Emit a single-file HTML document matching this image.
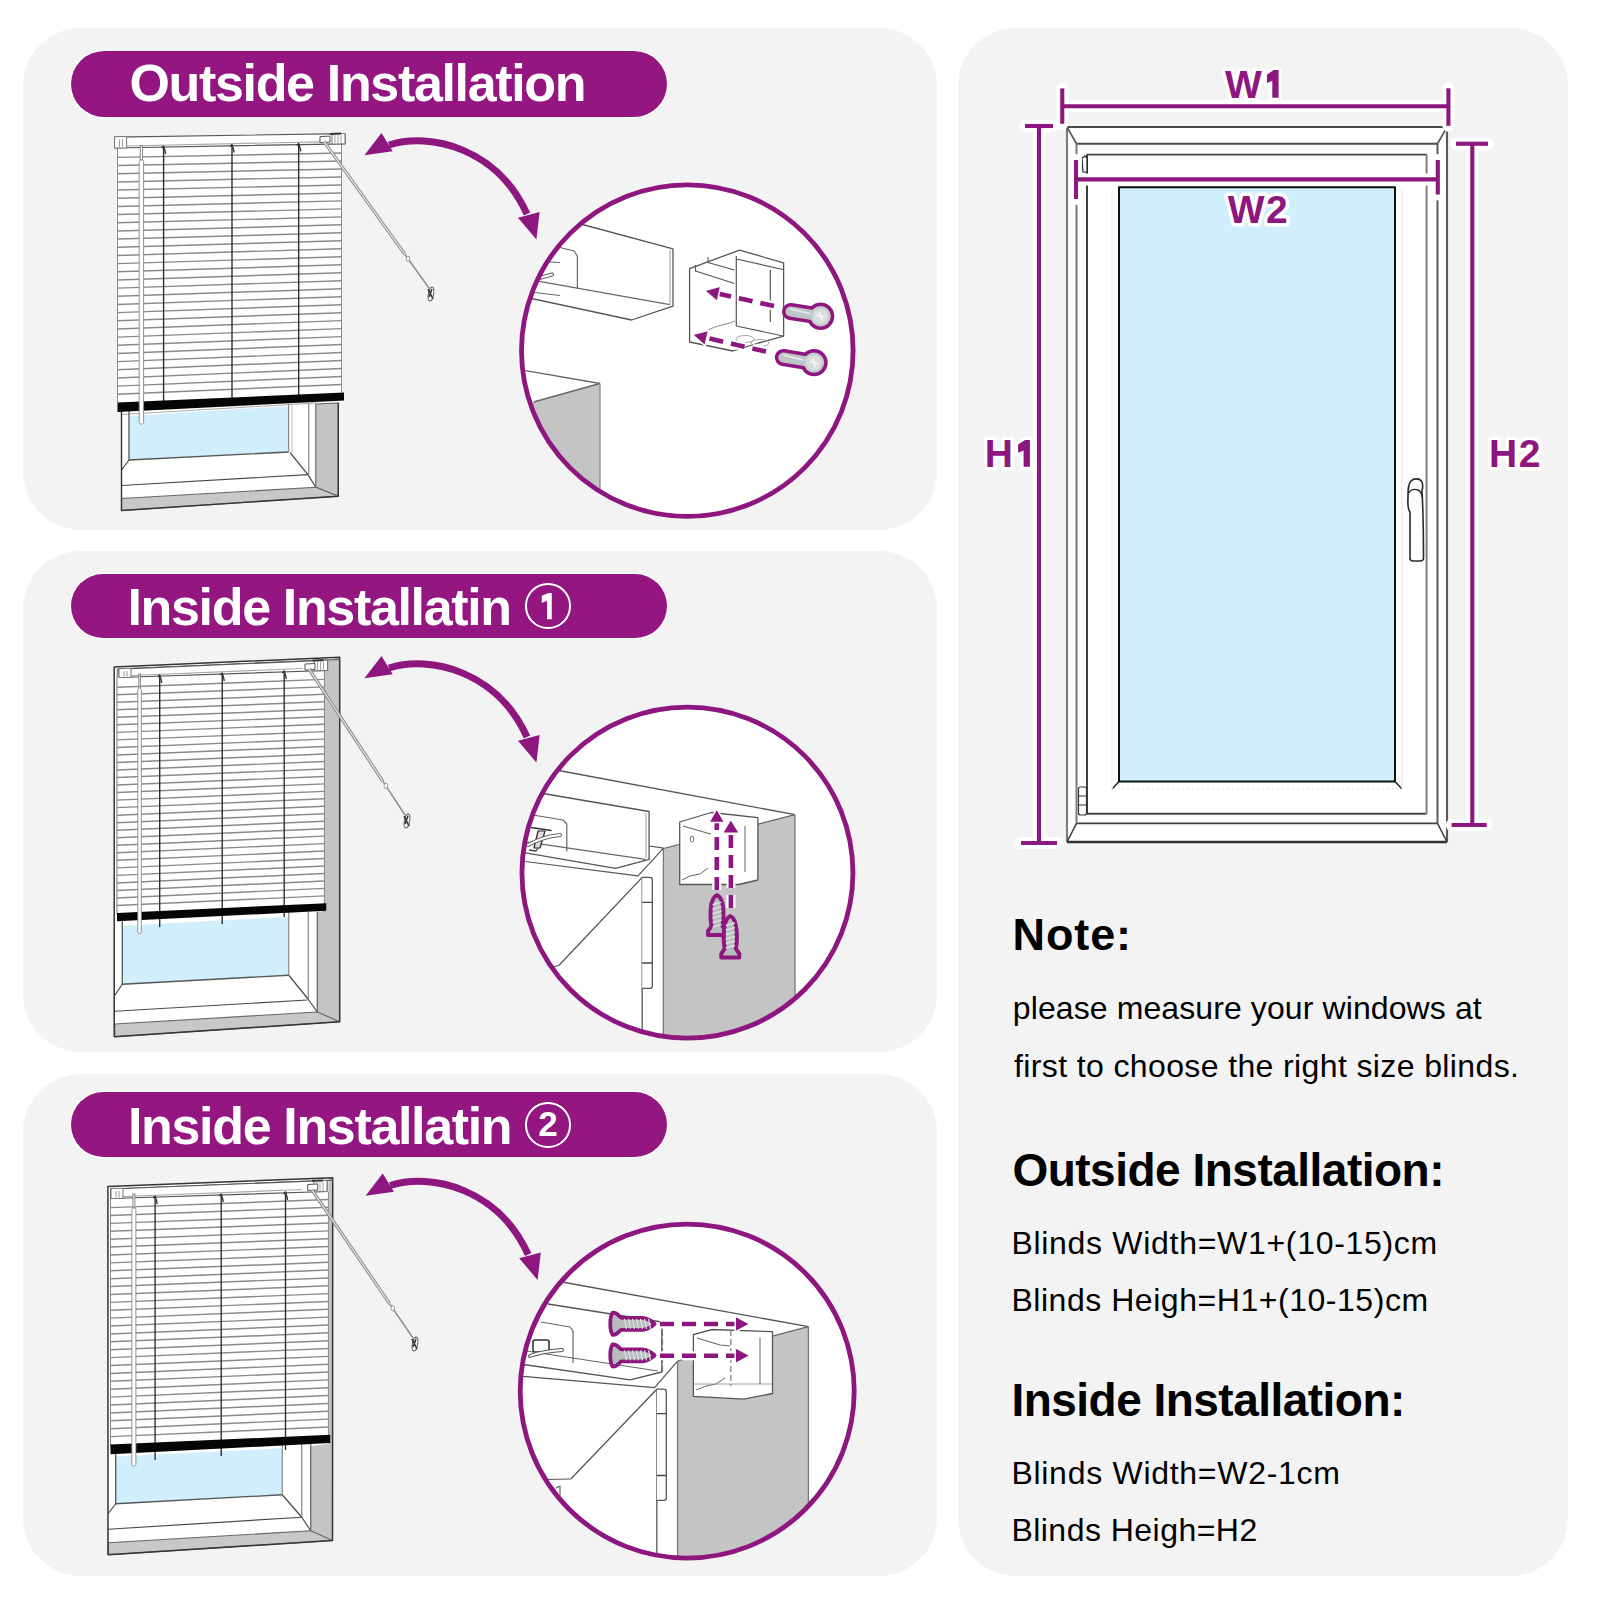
<!DOCTYPE html>
<html><head><meta charset="utf-8"><title>Blinds installation guide</title>
<style>
html,body{margin:0;padding:0}
body{width:1600px;height:1600px;position:relative;overflow:hidden;background:#fff;font-family:"Liberation Sans",sans-serif}
.panel{position:absolute;background:#f3f3f3;border-radius:58px}
.pill{position:absolute;left:71px;width:595.5px;background:#941681;border-radius:33px;box-shadow:0 0 0 1.3px rgba(255,255,255,0.85)}
.t{position:absolute;white-space:nowrap;line-height:1}
.ph{color:#fff;font-weight:700;font-size:52px;letter-spacing:-1.34px}
.circ{position:absolute;width:41.5px;height:41.5px;border:2.5px solid #fff;border-radius:50%;color:#fff;font-weight:700;font-size:35px;line-height:41.5px;text-align:center;z-index:2}
.dl{color:#8d167f;font-weight:700;font-size:39px;-webkit-text-stroke:0;paint-order:stroke fill}
.dl span{}
.hb{color:#000;font-weight:700}
.bd{color:#000;font-weight:400;font-size:32px}
svg{position:absolute;left:0;top:0}
</style></head>
<body>
<div class="panel" style="left:22.5px;top:27.5px;width:914.75px;height:502px"></div>
<div class="panel" style="left:22.5px;top:550.5px;width:914.75px;height:501.5px"></div>
<div class="panel" style="left:22.5px;top:1074px;width:914.75px;height:501.5px"></div>
<div class="panel" style="left:958.25px;top:27.5px;width:609.75px;height:1548px"></div>
<div class="pill" style="top:51px;height:65.5px"></div>
<div class="pill" style="top:573.6px;height:64px"></div>
<div class="pill" style="top:1091.75px;height:65.6px"></div>
<div class="t ph" style="left:129.5px;top:57.3px">Outside Installation</div>
<div class="t ph" style="left:127.5px;top:580.8px">Inside Installatin</div>
<div class="circ" style="left:525.3px;top:583.1px"></div>
<div class="t ph" style="left:128px;top:1099.7px">Inside Installatin</div>
<div class="circ" style="left:525.3px;top:1102.1px;line-height:40px">2</div>
<svg width="1600" height="1600" viewBox="0 0 1600 1600">
<polygon points="121.5,404 338.3,403 338.3,496.2 121.5,510.5" fill="#fff" stroke="none" stroke-width="1.3" stroke-linejoin="round" />
<polygon points="129,416 288.6,406 288.6,452 129,460" fill="#d1eefd" stroke="none" stroke-width="1.3" stroke-linejoin="round" />
<line x1="121.5" y1="414.5" x2="316" y2="403" stroke="#aaa" stroke-width="1" />
<polyline points="129,405 129,460 288.6,452" fill="none" stroke="#555" stroke-width="1.3" stroke-linejoin="round" />
<line x1="288.6" y1="404" x2="288.6" y2="452" stroke="#888" stroke-width="1.2" />
<line x1="292" y1="404" x2="292" y2="452" stroke="#bbb" stroke-width="1" />
<line x1="129" y1="460" x2="121.5" y2="470" stroke="#4a4a4a" stroke-width="1.2" />
<polyline points="290,452.5 307.9,474.6 315.8,487.3" fill="none" stroke="#4a4a4a" stroke-width="1.2" stroke-linejoin="round" />
<line x1="121.5" y1="485.5" x2="307.9" y2="474.6" stroke="#4a4a4a" stroke-width="1.2" />
<line x1="308.8" y1="404" x2="308.8" y2="474.6" stroke="#777" stroke-width="1.1" />
<polygon points="315.8,404 338.3,403 338.3,496.2 315.8,487.3" fill="#c4c4c4" stroke="#666" stroke-width="1.1" stroke-linejoin="round" />
<polygon points="121.5,498.5 315.8,487.3 338.3,496.2 121.5,510.5" fill="#c8c8c8" stroke="#666" stroke-width="1.1" stroke-linejoin="round" />
<polyline points="121.5,404 121.5,510.5 338.3,496.2 338.3,403" fill="none" stroke="#333" stroke-width="1.4" stroke-linejoin="round" />
<polygon points="117.5,148 341.5,143.8 341.5,392.5 117.5,402.5" fill="#fff" stroke="none" stroke-width="1.3" stroke-linejoin="round" />
<line x1="117.5" y1="157.4" x2="341.5" y2="153" stroke="#8a8a8a" stroke-width="1.45" />
<line x1="117.5" y1="165.57" x2="341.5" y2="160.98" stroke="#8a8a8a" stroke-width="1.45" />
<line x1="117.5" y1="173.74" x2="341.5" y2="168.97" stroke="#8a8a8a" stroke-width="1.45" />
<line x1="117.5" y1="181.91" x2="341.5" y2="176.95" stroke="#8a8a8a" stroke-width="1.45" />
<line x1="117.5" y1="190.08" x2="341.5" y2="184.93" stroke="#8a8a8a" stroke-width="1.45" />
<line x1="117.5" y1="198.24" x2="341.5" y2="192.91" stroke="#8a8a8a" stroke-width="1.45" />
<line x1="117.5" y1="206.41" x2="341.5" y2="200.9" stroke="#8a8a8a" stroke-width="1.45" />
<line x1="117.5" y1="214.58" x2="341.5" y2="208.88" stroke="#8a8a8a" stroke-width="1.45" />
<line x1="117.5" y1="222.75" x2="341.5" y2="216.86" stroke="#8a8a8a" stroke-width="1.45" />
<line x1="117.5" y1="230.92" x2="341.5" y2="224.84" stroke="#8a8a8a" stroke-width="1.45" />
<line x1="117.5" y1="239.09" x2="341.5" y2="232.83" stroke="#8a8a8a" stroke-width="1.45" />
<line x1="117.5" y1="247.26" x2="341.5" y2="240.81" stroke="#8a8a8a" stroke-width="1.45" />
<line x1="117.5" y1="255.43" x2="341.5" y2="248.79" stroke="#8a8a8a" stroke-width="1.45" />
<line x1="117.5" y1="263.6" x2="341.5" y2="256.78" stroke="#8a8a8a" stroke-width="1.45" />
<line x1="117.5" y1="271.77" x2="341.5" y2="264.76" stroke="#8a8a8a" stroke-width="1.45" />
<line x1="117.5" y1="279.93" x2="341.5" y2="272.74" stroke="#8a8a8a" stroke-width="1.45" />
<line x1="117.5" y1="288.1" x2="341.5" y2="280.72" stroke="#8a8a8a" stroke-width="1.45" />
<line x1="117.5" y1="296.27" x2="341.5" y2="288.71" stroke="#8a8a8a" stroke-width="1.45" />
<line x1="117.5" y1="304.44" x2="341.5" y2="296.69" stroke="#8a8a8a" stroke-width="1.45" />
<line x1="117.5" y1="312.61" x2="341.5" y2="304.67" stroke="#8a8a8a" stroke-width="1.45" />
<line x1="117.5" y1="320.78" x2="341.5" y2="312.66" stroke="#8a8a8a" stroke-width="1.45" />
<line x1="117.5" y1="328.95" x2="341.5" y2="320.64" stroke="#8a8a8a" stroke-width="1.45" />
<line x1="117.5" y1="337.12" x2="341.5" y2="328.62" stroke="#8a8a8a" stroke-width="1.45" />
<line x1="117.5" y1="345.29" x2="341.5" y2="336.6" stroke="#8a8a8a" stroke-width="1.45" />
<line x1="117.5" y1="353.46" x2="341.5" y2="344.59" stroke="#8a8a8a" stroke-width="1.45" />
<line x1="117.5" y1="361.62" x2="341.5" y2="352.57" stroke="#8a8a8a" stroke-width="1.45" />
<line x1="117.5" y1="369.79" x2="341.5" y2="360.55" stroke="#8a8a8a" stroke-width="1.45" />
<line x1="117.5" y1="377.96" x2="341.5" y2="368.53" stroke="#8a8a8a" stroke-width="1.45" />
<line x1="117.5" y1="386.13" x2="341.5" y2="376.52" stroke="#8a8a8a" stroke-width="1.45" />
<line x1="117.5" y1="394.3" x2="341.5" y2="384.5" stroke="#8a8a8a" stroke-width="1.45" />
<line x1="117.5" y1="148" x2="117.5" y2="402.5" stroke="#8a8a8a" stroke-width="1" />
<line x1="341.5" y1="143.8" x2="341.5" y2="392.5" stroke="#8a8a8a" stroke-width="1" />
<polygon points="114.6,137.2 345,133.6 345,143.8 114.6,148" fill="#fff" stroke="#555" stroke-width="1.2" stroke-linejoin="round" />
<line x1="126.6" y1="146" x2="320" y2="141.8" stroke="#aaa" stroke-width="1.2" />
<polygon points="114.6,136.7 126.6,136.5 126.6,148 114.6,148" fill="#fff" stroke="#777" stroke-width="1" stroke-linejoin="round" />
<line x1="119.6" y1="139.2" x2="119.6" y2="147" stroke="#999" stroke-width="1" />
<line x1="122.6" y1="139.2" x2="122.6" y2="147" stroke="#999" stroke-width="1" />
<polygon points="332,133.8 345,133.6 345,143.8 332,144.1" fill="#fff" stroke="#777" stroke-width="1" stroke-linejoin="round" />
<line x1="341" y1="135.1" x2="341" y2="143.3" stroke="#999" stroke-width="0.9" />
<line x1="338" y1="135.1" x2="338" y2="143.3" stroke="#999" stroke-width="0.9" />
<line x1="335" y1="135.1" x2="335" y2="143.3" stroke="#999" stroke-width="0.9" />
<line x1="330" y1="133.9" x2="341" y2="133.6" stroke="#333" stroke-width="2" />
<polygon points="320,136.6 330,136.1 330,142.1 320,142.6" fill="#fff" stroke="#555" stroke-width="1" stroke-linejoin="round" />
<line x1="324" y1="141.6" x2="404.85" y2="254.33" stroke="#8a8a8a" stroke-width="3.2" />
<line x1="324" y1="141.6" x2="404.85" y2="254.33" stroke="#e8e8e8" stroke-width="1.2" />
<line x1="404.85" y1="254.33" x2="429" y2="288" stroke="#8c8c8c" stroke-width="1.5" />
<ellipse cx="408" cy="258.72" rx="1.8" ry="2.6" fill="#fff" stroke="#888" stroke-width="0.9"/>
<ellipse cx="431" cy="294" rx="2.6" ry="7" fill="#fff" stroke="#666" stroke-width="1.1" transform="rotate(10 431 294)"/>
<path d="M428,289 L433,299 M432,289 L429,297" stroke="#333" stroke-width="1.6" fill="none"/>
<line x1="163.6" y1="147" x2="163.6" y2="407" stroke="#2a2a2a" stroke-width="1.35" />
<polyline points="161.6,148 163.6,146 165.1,151 165.6,154" fill="none" stroke="#333" stroke-width="1.4" stroke-linejoin="round" />
<line x1="232" y1="145.5" x2="232" y2="403" stroke="#2a2a2a" stroke-width="1.35" />
<polyline points="230,146.5 232,144.5 233.5,149.5 234,152.5" fill="none" stroke="#333" stroke-width="1.4" stroke-linejoin="round" />
<line x1="298.7" y1="144.5" x2="298.7" y2="399" stroke="#2a2a2a" stroke-width="1.35" />
<polyline points="296.7,145.5 298.7,143.5 300.2,148.5 300.7,151.5" fill="none" stroke="#333" stroke-width="1.4" stroke-linejoin="round" />
<polygon points="117.5,402.5 344,392.5 344,400.5 117.5,412" fill="#050505" stroke="none" stroke-width="1.3" stroke-linejoin="round" />
<rect x="140.2" y="146" width="2.4" height="14" fill="#fff" stroke="#777" stroke-width="0.9"/>
<rect x="139.2" y="160" width="4.4" height="264" rx="1.5" fill="#fff" stroke="#888" stroke-width="0.9"/>
<polygon points="114.2,667 339.7,657.2 339.7,1021.75 114.75,1036.75" fill="#fff" stroke="none" stroke-width="1.3" stroke-linejoin="round" />
<polygon points="324,660.7 339.7,657.2 339.7,1021.75 317.25,1012 317.25,912 324,911" fill="#c4c4c4" stroke="none" stroke-width="1.3" stroke-linejoin="round" />
<polygon points="122.25,925.75 288.75,916.75 288.75,975.25 122.25,984.25" fill="#d1eefd" stroke="none" stroke-width="1.3" stroke-linejoin="round" />
<polyline points="122.25,921 122.25,984.25 288.75,975.25" fill="none" stroke="#555" stroke-width="1.3" stroke-linejoin="round" />
<line x1="288.75" y1="912" x2="288.75" y2="975.25" stroke="#888" stroke-width="1.2" />
<line x1="122.25" y1="984.25" x2="114.75" y2="995.5" stroke="#4a4a4a" stroke-width="1.2" />
<polyline points="288.75,975.25 308.25,999.25 317.25,1012" fill="none" stroke="#4a4a4a" stroke-width="1.2" stroke-linejoin="round" />
<line x1="308.25" y1="912" x2="308.25" y2="999.25" stroke="#777" stroke-width="1.1" />
<line x1="317.25" y1="912" x2="317.25" y2="1012" stroke="#555" stroke-width="1.1" />
<line x1="114.75" y1="1011.25" x2="307.5" y2="1000" stroke="#4a4a4a" stroke-width="1.2" />
<polygon points="114.75,1024 317.25,1012 339.75,1021.75 114.75,1036.75" fill="#c8c8c8" stroke="#666" stroke-width="1.1" stroke-linejoin="round" />
<line x1="324" y1="660.7" x2="324" y2="912" stroke="#888" stroke-width="1" />
<polyline points="114.2,1036.75 114.2,667 339.7,657.2 339.7,1021.75 114.2,1036.75" fill="none" stroke="#333" stroke-width="1.5" stroke-linejoin="round" />
<line x1="117.2" y1="669" x2="339.7" y2="659.5" stroke="#555" stroke-width="1.1" />
<line x1="117.2" y1="669" x2="117.2" y2="915" stroke="#666" stroke-width="1" />
<polygon points="117,677.5 324.4,670.5 324.4,903.25 117,913" fill="#fff" stroke="none" stroke-width="1.3" stroke-linejoin="round" />
<line x1="117" y1="687.2" x2="324.4" y2="679.4" stroke="#8a8a8a" stroke-width="1.45" />
<line x1="117" y1="694.73" x2="324.4" y2="686.86" stroke="#8a8a8a" stroke-width="1.45" />
<line x1="117" y1="702.26" x2="324.4" y2="694.33" stroke="#8a8a8a" stroke-width="1.45" />
<line x1="117" y1="709.78" x2="324.4" y2="701.79" stroke="#8a8a8a" stroke-width="1.45" />
<line x1="117" y1="717.31" x2="324.4" y2="709.26" stroke="#8a8a8a" stroke-width="1.45" />
<line x1="117" y1="724.84" x2="324.4" y2="716.72" stroke="#8a8a8a" stroke-width="1.45" />
<line x1="117" y1="732.37" x2="324.4" y2="724.18" stroke="#8a8a8a" stroke-width="1.45" />
<line x1="117" y1="739.89" x2="324.4" y2="731.65" stroke="#8a8a8a" stroke-width="1.45" />
<line x1="117" y1="747.42" x2="324.4" y2="739.11" stroke="#8a8a8a" stroke-width="1.45" />
<line x1="117" y1="754.95" x2="324.4" y2="746.57" stroke="#8a8a8a" stroke-width="1.45" />
<line x1="117" y1="762.48" x2="324.4" y2="754.04" stroke="#8a8a8a" stroke-width="1.45" />
<line x1="117" y1="770" x2="324.4" y2="761.5" stroke="#8a8a8a" stroke-width="1.45" />
<line x1="117" y1="777.53" x2="324.4" y2="768.97" stroke="#8a8a8a" stroke-width="1.45" />
<line x1="117" y1="785.06" x2="324.4" y2="776.43" stroke="#8a8a8a" stroke-width="1.45" />
<line x1="117" y1="792.59" x2="324.4" y2="783.89" stroke="#8a8a8a" stroke-width="1.45" />
<line x1="117" y1="800.11" x2="324.4" y2="791.36" stroke="#8a8a8a" stroke-width="1.45" />
<line x1="117" y1="807.64" x2="324.4" y2="798.82" stroke="#8a8a8a" stroke-width="1.45" />
<line x1="117" y1="815.17" x2="324.4" y2="806.28" stroke="#8a8a8a" stroke-width="1.45" />
<line x1="117" y1="822.7" x2="324.4" y2="813.75" stroke="#8a8a8a" stroke-width="1.45" />
<line x1="117" y1="830.22" x2="324.4" y2="821.21" stroke="#8a8a8a" stroke-width="1.45" />
<line x1="117" y1="837.75" x2="324.4" y2="828.68" stroke="#8a8a8a" stroke-width="1.45" />
<line x1="117" y1="845.28" x2="324.4" y2="836.14" stroke="#8a8a8a" stroke-width="1.45" />
<line x1="117" y1="852.81" x2="324.4" y2="843.6" stroke="#8a8a8a" stroke-width="1.45" />
<line x1="117" y1="860.33" x2="324.4" y2="851.07" stroke="#8a8a8a" stroke-width="1.45" />
<line x1="117" y1="867.86" x2="324.4" y2="858.53" stroke="#8a8a8a" stroke-width="1.45" />
<line x1="117" y1="875.39" x2="324.4" y2="865.99" stroke="#8a8a8a" stroke-width="1.45" />
<line x1="117" y1="882.92" x2="324.4" y2="873.46" stroke="#8a8a8a" stroke-width="1.45" />
<line x1="117" y1="890.44" x2="324.4" y2="880.92" stroke="#8a8a8a" stroke-width="1.45" />
<line x1="117" y1="897.97" x2="324.4" y2="888.39" stroke="#8a8a8a" stroke-width="1.45" />
<line x1="117" y1="905.5" x2="324.4" y2="895.85" stroke="#8a8a8a" stroke-width="1.45" />
<line x1="117" y1="677.5" x2="117" y2="913" stroke="#8a8a8a" stroke-width="1" />
<line x1="324.4" y1="670.5" x2="324.4" y2="903.25" stroke="#8a8a8a" stroke-width="1" />
<polygon points="119,669.1 327.5,660.2 327.5,670.5 119,677.5" fill="#fff" stroke="#555" stroke-width="1.2" stroke-linejoin="round" />
<line x1="131" y1="675.5" x2="302.5" y2="668.5" stroke="#aaa" stroke-width="1.2" />
<polygon points="119,668.6 131,668.4 131,677.5 119,677.5" fill="#fff" stroke="#777" stroke-width="1" stroke-linejoin="round" />
<line x1="124" y1="671.1" x2="124" y2="676.5" stroke="#999" stroke-width="1" />
<line x1="127" y1="671.1" x2="127" y2="676.5" stroke="#999" stroke-width="1" />
<polygon points="314.5,660.4 327.5,660.2 327.5,670.5 314.5,670.8" fill="#fff" stroke="#777" stroke-width="1" stroke-linejoin="round" />
<line x1="323.5" y1="661.7" x2="323.5" y2="670" stroke="#999" stroke-width="0.9" />
<line x1="320.5" y1="661.7" x2="320.5" y2="670" stroke="#999" stroke-width="0.9" />
<line x1="317.5" y1="661.7" x2="317.5" y2="670" stroke="#999" stroke-width="0.9" />
<line x1="312.5" y1="660.5" x2="323.5" y2="660.2" stroke="#333" stroke-width="2" />
<polygon points="305,664 315,663.5 315,669.5 305,670" fill="#fff" stroke="#555" stroke-width="1" stroke-linejoin="round" />
<line x1="309" y1="669" x2="382.92" y2="781.42" stroke="#8a8a8a" stroke-width="3.2" />
<line x1="309" y1="669" x2="382.92" y2="781.42" stroke="#e8e8e8" stroke-width="1.2" />
<line x1="382.92" y1="781.42" x2="405" y2="815" stroke="#8c8c8c" stroke-width="1.5" />
<ellipse cx="385.8" cy="785.8" rx="1.8" ry="2.6" fill="#fff" stroke="#888" stroke-width="0.9"/>
<ellipse cx="407" cy="821" rx="2.6" ry="7" fill="#fff" stroke="#666" stroke-width="1.1" transform="rotate(10 407 821)"/>
<path d="M404,816 L409,826 M408,816 L405,824" stroke="#333" stroke-width="1.6" fill="none"/>
<line x1="159.7" y1="676" x2="159.7" y2="927" stroke="#2a2a2a" stroke-width="1.35" />
<polyline points="157.7,677 159.7,675 161.2,680 161.7,683" fill="none" stroke="#333" stroke-width="1.4" stroke-linejoin="round" />
<line x1="222.2" y1="674" x2="222.2" y2="924" stroke="#2a2a2a" stroke-width="1.35" />
<polyline points="220.2,675 222.2,673 223.7,678 224.2,681" fill="none" stroke="#333" stroke-width="1.4" stroke-linejoin="round" />
<line x1="284.2" y1="672" x2="284.2" y2="917" stroke="#2a2a2a" stroke-width="1.35" />
<polyline points="282.2,673 284.2,671 285.7,676 286.2,679" fill="none" stroke="#333" stroke-width="1.4" stroke-linejoin="round" />
<polygon points="117,913 326.25,903.25 326.25,910.75 117,921.25" fill="#050505" stroke="none" stroke-width="1.3" stroke-linejoin="round" />
<rect x="138.8" y="674" width="1.5" height="14" fill="#fff" stroke="#777" stroke-width="0.9"/>
<rect x="137.8" y="688" width="3.5" height="245.6" rx="1.5" fill="#fff" stroke="#888" stroke-width="0.9"/>
<polygon points="107.9,1186.6 332.7,1177.7 332.5,1540.5 108.25,1554.75" fill="#fff" stroke="none" stroke-width="1.3" stroke-linejoin="round" />
<polygon points="328.4,1179 332.7,1177.7 332.5,1540.5 310.75,1530.75 310.75,1446 328.4,1444" fill="#c4c4c4" stroke="none" stroke-width="1.3" stroke-linejoin="round" />
<polygon points="115.75,1456.5 282.25,1448.25 282.25,1494.75 115.75,1503.75" fill="#d1eefd" stroke="none" stroke-width="1.3" stroke-linejoin="round" />
<polyline points="115.75,1452 115.75,1503.75 282.25,1494.75" fill="none" stroke="#555" stroke-width="1.3" stroke-linejoin="round" />
<line x1="282.25" y1="1444" x2="282.25" y2="1494.75" stroke="#888" stroke-width="1.2" />
<line x1="115.75" y1="1503.75" x2="108.25" y2="1513.5" stroke="#4a4a4a" stroke-width="1.2" />
<polyline points="282.25,1494.75 301.75,1517.25 310.75,1530.75" fill="none" stroke="#4a4a4a" stroke-width="1.2" stroke-linejoin="round" />
<line x1="301.75" y1="1444" x2="301.75" y2="1517.25" stroke="#777" stroke-width="1.1" />
<line x1="310.75" y1="1444" x2="310.75" y2="1530.75" stroke="#555" stroke-width="1.1" />
<line x1="108.25" y1="1529.25" x2="301.75" y2="1517.25" stroke="#4a4a4a" stroke-width="1.2" />
<polygon points="108.25,1542.75 310.75,1530.75 332.5,1540.5 108.25,1554.75" fill="#c8c8c8" stroke="#666" stroke-width="1.1" stroke-linejoin="round" />
<polyline points="108,1554.75 107.9,1186.6 332.7,1177.7 332.5,1540.5 108,1554.75" fill="none" stroke="#333" stroke-width="1.5" stroke-linejoin="round" />
<line x1="110" y1="1189" x2="332.7" y2="1180.2" stroke="#555" stroke-width="1.1" />
<line x1="110.5" y1="1189" x2="110.5" y2="1446" stroke="#666" stroke-width="1" />
<polygon points="110.5,1198.5 328.4,1191.5 328.4,1434.75 110.5,1444.5" fill="#fff" stroke="none" stroke-width="1.3" stroke-linejoin="round" />
<line x1="110.5" y1="1207.6" x2="328.4" y2="1199.5" stroke="#8a8a8a" stroke-width="1.45" />
<line x1="110.5" y1="1215.5" x2="328.4" y2="1207.34" stroke="#8a8a8a" stroke-width="1.45" />
<line x1="110.5" y1="1223.39" x2="328.4" y2="1215.19" stroke="#8a8a8a" stroke-width="1.45" />
<line x1="110.5" y1="1231.29" x2="328.4" y2="1223.03" stroke="#8a8a8a" stroke-width="1.45" />
<line x1="110.5" y1="1239.19" x2="328.4" y2="1230.87" stroke="#8a8a8a" stroke-width="1.45" />
<line x1="110.5" y1="1247.08" x2="328.4" y2="1238.72" stroke="#8a8a8a" stroke-width="1.45" />
<line x1="110.5" y1="1254.98" x2="328.4" y2="1246.56" stroke="#8a8a8a" stroke-width="1.45" />
<line x1="110.5" y1="1262.88" x2="328.4" y2="1254.4" stroke="#8a8a8a" stroke-width="1.45" />
<line x1="110.5" y1="1270.77" x2="328.4" y2="1262.24" stroke="#8a8a8a" stroke-width="1.45" />
<line x1="110.5" y1="1278.67" x2="328.4" y2="1270.09" stroke="#8a8a8a" stroke-width="1.45" />
<line x1="110.5" y1="1286.57" x2="328.4" y2="1277.93" stroke="#8a8a8a" stroke-width="1.45" />
<line x1="110.5" y1="1294.46" x2="328.4" y2="1285.77" stroke="#8a8a8a" stroke-width="1.45" />
<line x1="110.5" y1="1302.36" x2="328.4" y2="1293.62" stroke="#8a8a8a" stroke-width="1.45" />
<line x1="110.5" y1="1310.26" x2="328.4" y2="1301.46" stroke="#8a8a8a" stroke-width="1.45" />
<line x1="110.5" y1="1318.15" x2="328.4" y2="1309.3" stroke="#8a8a8a" stroke-width="1.45" />
<line x1="110.5" y1="1326.05" x2="328.4" y2="1317.15" stroke="#8a8a8a" stroke-width="1.45" />
<line x1="110.5" y1="1333.94" x2="328.4" y2="1324.99" stroke="#8a8a8a" stroke-width="1.45" />
<line x1="110.5" y1="1341.84" x2="328.4" y2="1332.83" stroke="#8a8a8a" stroke-width="1.45" />
<line x1="110.5" y1="1349.74" x2="328.4" y2="1340.68" stroke="#8a8a8a" stroke-width="1.45" />
<line x1="110.5" y1="1357.63" x2="328.4" y2="1348.52" stroke="#8a8a8a" stroke-width="1.45" />
<line x1="110.5" y1="1365.53" x2="328.4" y2="1356.36" stroke="#8a8a8a" stroke-width="1.45" />
<line x1="110.5" y1="1373.43" x2="328.4" y2="1364.21" stroke="#8a8a8a" stroke-width="1.45" />
<line x1="110.5" y1="1381.32" x2="328.4" y2="1372.05" stroke="#8a8a8a" stroke-width="1.45" />
<line x1="110.5" y1="1389.22" x2="328.4" y2="1379.89" stroke="#8a8a8a" stroke-width="1.45" />
<line x1="110.5" y1="1397.12" x2="328.4" y2="1387.73" stroke="#8a8a8a" stroke-width="1.45" />
<line x1="110.5" y1="1405.01" x2="328.4" y2="1395.58" stroke="#8a8a8a" stroke-width="1.45" />
<line x1="110.5" y1="1412.91" x2="328.4" y2="1403.42" stroke="#8a8a8a" stroke-width="1.45" />
<line x1="110.5" y1="1420.81" x2="328.4" y2="1411.26" stroke="#8a8a8a" stroke-width="1.45" />
<line x1="110.5" y1="1428.7" x2="328.4" y2="1419.11" stroke="#8a8a8a" stroke-width="1.45" />
<line x1="110.5" y1="1436.6" x2="328.4" y2="1426.95" stroke="#8a8a8a" stroke-width="1.45" />
<line x1="110.5" y1="1198.5" x2="110.5" y2="1444.5" stroke="#8a8a8a" stroke-width="1" />
<line x1="328.4" y1="1191.5" x2="328.4" y2="1434.75" stroke="#8a8a8a" stroke-width="1" />
<polygon points="111,1189 327,1180.4 327,1191.5 111,1198.5" fill="#fff" stroke="#555" stroke-width="1.2" stroke-linejoin="round" />
<line x1="123" y1="1196.5" x2="302" y2="1189.5" stroke="#aaa" stroke-width="1.2" />
<polygon points="111,1188.5 123,1188.3 123,1198.5 111,1198.5" fill="#fff" stroke="#777" stroke-width="1" stroke-linejoin="round" />
<line x1="116" y1="1191" x2="116" y2="1197.5" stroke="#999" stroke-width="1" />
<line x1="119" y1="1191" x2="119" y2="1197.5" stroke="#999" stroke-width="1" />
<polygon points="314,1180.6 327,1180.4 327,1191.5 314,1191.8" fill="#fff" stroke="#777" stroke-width="1" stroke-linejoin="round" />
<line x1="323" y1="1181.9" x2="323" y2="1191" stroke="#999" stroke-width="0.9" />
<line x1="320" y1="1181.9" x2="320" y2="1191" stroke="#999" stroke-width="0.9" />
<line x1="317" y1="1181.9" x2="317" y2="1191" stroke="#999" stroke-width="0.9" />
<line x1="312" y1="1180.7" x2="323" y2="1180.4" stroke="#333" stroke-width="2" />
<polygon points="307.7,1184.5 317.7,1184 317.7,1190 307.7,1190.5" fill="#fff" stroke="#555" stroke-width="1" stroke-linejoin="round" />
<line x1="311.7" y1="1189.5" x2="389.7" y2="1303.85" stroke="#8a8a8a" stroke-width="3.2" />
<line x1="311.7" y1="1189.5" x2="389.7" y2="1303.85" stroke="#e8e8e8" stroke-width="1.2" />
<line x1="389.7" y1="1303.85" x2="413" y2="1338" stroke="#8c8c8c" stroke-width="1.5" />
<ellipse cx="392.74" cy="1308.3" rx="1.8" ry="2.6" fill="#fff" stroke="#888" stroke-width="0.9"/>
<ellipse cx="415" cy="1344" rx="2.6" ry="7" fill="#fff" stroke="#666" stroke-width="1.1" transform="rotate(10 415 1344)"/>
<path d="M412,1339 L417,1349 M416,1339 L413,1347" stroke="#333" stroke-width="1.6" fill="none"/>
<line x1="155.1" y1="1197" x2="155.1" y2="1460" stroke="#2a2a2a" stroke-width="1.35" />
<polyline points="153.1,1198 155.1,1196 156.6,1201 157.1,1204" fill="none" stroke="#333" stroke-width="1.4" stroke-linejoin="round" />
<line x1="221.2" y1="1195" x2="221.2" y2="1456" stroke="#2a2a2a" stroke-width="1.35" />
<polyline points="219.2,1196 221.2,1194 222.7,1199 223.2,1202" fill="none" stroke="#333" stroke-width="1.4" stroke-linejoin="round" />
<line x1="285.5" y1="1193" x2="285.5" y2="1450" stroke="#2a2a2a" stroke-width="1.35" />
<polyline points="283.5,1194 285.5,1192 287,1197 287.5,1200" fill="none" stroke="#333" stroke-width="1.4" stroke-linejoin="round" />
<polygon points="110.5,1444.5 330.25,1434.75 330.25,1443 110.5,1454.25" fill="#050505" stroke="none" stroke-width="1.3" stroke-linejoin="round" />
<rect x="132.9" y="1194" width="2" height="14" fill="#fff" stroke="#777" stroke-width="0.9"/>
<rect x="131.9" y="1208" width="4" height="258" rx="1.5" fill="#fff" stroke="#888" stroke-width="0.9"/>
<path d="M389,145 C430,132 497,148 527,214" fill="none" stroke="#8d167f" stroke-width="7"/>
<polygon points="364.4,155.2 381.5,133.1 392.7,151.2" fill="#8d167f" stroke="none" stroke-width="1.3" stroke-linejoin="round" />
<polygon points="536.4,239.4 518,217.8 539.6,211.9" fill="#8d167f" stroke="none" stroke-width="1.3" stroke-linejoin="round" />
<path d="M389,668 C430,655 497,671 527,737" fill="none" stroke="#8d167f" stroke-width="7"/>
<polygon points="364.4,678.2 381.5,656.1 392.7,674.2" fill="#8d167f" stroke="none" stroke-width="1.3" stroke-linejoin="round" />
<polygon points="536.4,762.4 518,740.8 539.6,734.9" fill="#8d167f" stroke="none" stroke-width="1.3" stroke-linejoin="round" />
<path d="M390.2,1185.5 C431.2,1172.5 498.2,1188.5 528.2,1254.5" fill="none" stroke="#8d167f" stroke-width="7"/>
<polygon points="365.6,1195.7 382.7,1173.6 393.9,1191.7" fill="#8d167f" stroke="none" stroke-width="1.3" stroke-linejoin="round" />
<polygon points="537.6,1279.9 519.2,1258.3 540.8,1252.4" fill="#8d167f" stroke="none" stroke-width="1.3" stroke-linejoin="round" />
<clipPath id="cc1"><circle cx="687.3" cy="350.6" r="165.8"/></clipPath>
<circle cx="687.3" cy="350.6" r="165.8" fill="#fff"/>
<g clip-path="url(#cc1)"><polyline points="525.6,370.7 600,383.5" fill="none" stroke="#666" stroke-width="1.3" stroke-linejoin="round" />
<polygon points="600,383.5 533.6,402 520,420 520,520 600,520" fill="#c4c4c4" stroke="none" stroke-width="1.3" stroke-linejoin="round" />
<line x1="600" y1="383.5" x2="533.6" y2="402" stroke="#666" stroke-width="1.3" />
<line x1="600" y1="383.5" x2="600" y2="520" stroke="#888" stroke-width="1.3" />
<polygon points="560,222 673,248.8 673,306.2 631.6,320 520,297 520,222" fill="#fff" stroke="none" stroke-width="1.3" stroke-linejoin="round" />
<polyline points="575,222.5 673,248.8 673,306.2 631.6,320 520,296" fill="none" stroke="#555" stroke-width="1.3" stroke-linejoin="round" />
<line x1="520" y1="278" x2="669.8" y2="304.6" stroke="#666" stroke-width="1.2" />
<polyline points="556,246.5 574,251 577.4,256 577.4,288.1" fill="none" stroke="#666" stroke-width="1.2" stroke-linejoin="round" />
<line x1="670" y1="250" x2="670" y2="305" stroke="#999" stroke-width="1" />
<polyline points="531,261 560,262.5" fill="none" stroke="#666" stroke-width="1.2" stroke-linejoin="round" />
<polyline points="530,292 560,295.5" fill="none" stroke="#666" stroke-width="1.2" stroke-linejoin="round" />
<path d="M536,279 L552,274.5" stroke="#666" stroke-width="4.2" stroke-linecap="round"/><path d="M536,279 L552,274.5" stroke="#fff" stroke-width="2" stroke-linecap="round"/>
<polygon points="689.6,268.7 739.5,250.1 783.6,262.8 783.6,336.2 758.6,343 733,351 689.6,342" fill="#fff" stroke="#555" stroke-width="1.3" stroke-linejoin="round" />
<polyline points="736.3,259 783,269.5" fill="none" stroke="#555" stroke-width="1.2" stroke-linejoin="round" />
<polyline points="736.3,256 736.3,326 783,336" fill="none" stroke="#555" stroke-width="1.2" stroke-linejoin="round" />
<line x1="695.5" y1="271" x2="734.5" y2="283.5" stroke="#555" stroke-width="1.2" />
<line x1="695.5" y1="265" x2="695.5" y2="271.5" stroke="#555" stroke-width="1.1" />
<line x1="708" y1="262.5" x2="734.5" y2="270" stroke="#555" stroke-width="1.2" />
<line x1="708" y1="257" x2="708" y2="263" stroke="#555" stroke-width="1.1" />
<line x1="770.3" y1="270" x2="770.3" y2="322" stroke="#555" stroke-width="1.2" />
<ellipse cx="745" cy="339" rx="9" ry="3.5" fill="none" stroke="#999" stroke-width="0.9"/>
<ellipse cx="760" cy="343" rx="9" ry="3.5" fill="none" stroke="#999" stroke-width="0.9"/>
<polyline points="700,333 708,330 715,327 722,325 730,323 735,321" fill="none" stroke="#888" stroke-width="1" stroke-linejoin="round" />
<line x1="774" y1="306" x2="717.09" y2="293.33" stroke="#fff" stroke-width="9" stroke-dasharray="14 8"/>
<line x1="774" y1="306" x2="717.09" y2="293.33" stroke="#8d167f" stroke-width="4.6" stroke-dasharray="14 8"/>
<polygon points="704.4,290.5 720.78,285.95 717.3,301.57" fill="#8d167f" stroke="#fff" stroke-width="1.5" stroke-linejoin="round" />
<line x1="766" y1="351.6" x2="704.87" y2="337.52" stroke="#fff" stroke-width="9" stroke-dasharray="14 8"/>
<line x1="766" y1="351.6" x2="704.87" y2="337.52" stroke="#8d167f" stroke-width="4.6" stroke-dasharray="14 8"/>
<polygon points="692.2,334.6 708.61,330.17 705.02,345.76" fill="#8d167f" stroke="#fff" stroke-width="1.5" stroke-linejoin="round" />
<line x1="790.5" y1="311.5" x2="820.6" y2="316.2" stroke="#8d167f" stroke-width="17" stroke-linecap="round"/>
<circle cx="820.6" cy="316.2" r="13.7" fill="#8d167f"/>
<line x1="790.5" y1="311.5" x2="820.6" y2="316.2" stroke="#bfc4c6" stroke-width="10" stroke-linecap="round"/>
<circle cx="820.6" cy="316.2" r="10.2" fill="#c6cbcd"/>
<circle cx="820.6" cy="316.2" r="7.7" fill="#d9dddd"/>
<path d="M816.6,315.2 L824.6,317.2 M819.6,312.2 L821.6,320.2" stroke="#f4f6f6" stroke-width="2" fill="none"/>
<line x1="790.5" y1="309" x2="810.4" y2="313.7" stroke="#e3e7e8" stroke-width="2" />
<line x1="783.3" y1="357.5" x2="814" y2="362.6" stroke="#8d167f" stroke-width="17" stroke-linecap="round"/>
<circle cx="814" cy="362.6" r="13.7" fill="#8d167f"/>
<line x1="783.3" y1="357.5" x2="814" y2="362.6" stroke="#bfc4c6" stroke-width="10" stroke-linecap="round"/>
<circle cx="814" cy="362.6" r="10.2" fill="#c6cbcd"/>
<circle cx="814" cy="362.6" r="7.7" fill="#d9dddd"/>
<path d="M810,361.6 L818,363.6 M813,358.6 L815,366.6" stroke="#f4f6f6" stroke-width="2" fill="none"/>
<line x1="783.3" y1="355" x2="803.8" y2="360.1" stroke="#e3e7e8" stroke-width="2" /></g>
<circle cx="687.3" cy="350.6" r="165.8" fill="none" stroke="#8d167f" stroke-width="4.8"/>
<clipPath id="cc2"><circle cx="687.45" cy="872.7" r="165.5"/></clipPath>
<circle cx="687.45" cy="872.7" r="165.5" fill="#fff"/>
<g clip-path="url(#cc2)"><polygon points="663.4,848.5 795,814.7 795,1060 663.4,1060" fill="#c4c4c4" stroke="none" stroke-width="1.3" stroke-linejoin="round" />
<line x1="663.4" y1="848.5" x2="663.4" y2="1060" stroke="#777" stroke-width="1.3" />
<line x1="795" y1="814.7" x2="795" y2="1060" stroke="#777" stroke-width="1.3" />
<line x1="540" y1="767" x2="795" y2="814.7" stroke="#555" stroke-width="1.3" />
<polyline points="663.4,848.5 795,814.7" fill="none" stroke="#666" stroke-width="1.2" stroke-linejoin="round" />
<polygon points="540,793 649.1,811.5 649.1,859.4 615.6,868.4 520,852 520,793" fill="#fff" stroke="none" stroke-width="1.3" stroke-linejoin="round" />
<polyline points="540,793 649.1,811.5 649.1,859.4 615.6,868.4 520,852" fill="none" stroke="#555" stroke-width="1.3" stroke-linejoin="round" />
<line x1="520" y1="841" x2="645.4" y2="859.4" stroke="#666" stroke-width="1.2" />
<polyline points="533,815 563,820 566.8,824 566.8,851.4" fill="none" stroke="#666" stroke-width="1.2" stroke-linejoin="round" />
<line x1="646" y1="813" x2="646" y2="858" stroke="#999" stroke-width="1" />
<polyline points="525.3,861.5 638,875.8 663.5,848.2" fill="none" stroke="#555" stroke-width="1.2" stroke-linejoin="round" />
<line x1="649.6" y1="846" x2="663.5" y2="848.2" stroke="#555" stroke-width="1.2" />
<line x1="642.2" y1="877.4" x2="642.2" y2="1060" stroke="#555" stroke-width="1.3" />
<path d="M642.2,877.4 L650,877.4 Q652.3,877.4 652.3,880 L652.3,986 Q652.3,988.3 650,988.3 L642.2,988.3" fill="#fff" stroke="#555" stroke-width="1.3"/>
<line x1="642.2" y1="902.4" x2="652.3" y2="902.4" stroke="#444" stroke-width="1.3" />
<line x1="642.2" y1="963" x2="652.3" y2="963" stroke="#444" stroke-width="1.3" />
<polyline points="642.2,877.4 559.3,965 554,967" fill="none" stroke="#555" stroke-width="1.3" stroke-linejoin="round" />
<polygon points="538,831 545,831 540,848 534,848" fill="#ddd" stroke="#222" stroke-width="1.2" stroke-linejoin="round" />
<line x1="531" y1="827.5" x2="551.5" y2="830.5" stroke="#333" stroke-width="1.4" />
<polyline points="529,850 536,851 538,848" fill="none" stroke="#444" stroke-width="1.3" stroke-linejoin="round" />
<path d="M528,845 C540,838 550,836 560,835" stroke="#666" stroke-width="4.2" fill="none" stroke-linecap="round"/><path d="M528,845 C540,838 550,836 560,835" stroke="#fff" stroke-width="2" fill="none" stroke-linecap="round"/>
<polygon points="679.7,822 711.2,812.5 757.9,817.6 757.9,880 738.7,884.5 679.7,884.5" fill="#fff" stroke="#555" stroke-width="1.3" stroke-linejoin="round" />
<polyline points="683,826 707,833 711,834" fill="none" stroke="#666" stroke-width="1.1" stroke-linejoin="round" />
<line x1="745" y1="826" x2="745" y2="872" stroke="#666" stroke-width="1" />
<polyline points="682,880 690,876 700,874 708,868" fill="none" stroke="#666" stroke-width="1" stroke-linejoin="round" />
<ellipse cx="692" cy="839" rx="1.8" ry="3" fill="none" stroke="#666" stroke-width="0.9"/>
<line x1="716.8" y1="890" x2="716.8" y2="820.6" stroke="#fff" stroke-width="9" stroke-dasharray="13 7"/>
<line x1="716.8" y1="890" x2="716.8" y2="820.6" stroke="#8d167f" stroke-width="4.6" stroke-dasharray="13 7"/>
<polygon points="716.8,808.6 724.8,822.6 708.8,822.6" fill="#8d167f" stroke="#fff" stroke-width="1.5" stroke-linejoin="round" />
<line x1="730.9" y1="908" x2="730.9" y2="831.2" stroke="#fff" stroke-width="9" stroke-dasharray="13 7"/>
<line x1="730.9" y1="908" x2="730.9" y2="831.2" stroke="#8d167f" stroke-width="4.6" stroke-dasharray="13 7"/>
<polygon points="730.9,819.2 739.4,833.2 722.4,833.2" fill="#8d167f" stroke="#fff" stroke-width="1.5" stroke-linejoin="round" />
<path d="M717,895.2 C725,898.2 724,919.1 722.5,926.1 L726,931.1 L726,935.1 L708,935.1 L708,931.1 L711.5,926.1 C710,919.1 709,898.2 717,895.2 Z" fill="#b9bcbd" stroke="#8d167f" stroke-width="4" stroke-linejoin="round"/>
<line x1="712.5" y1="904.7" x2="721.5" y2="902.2" stroke="#e0e2e2" stroke-width="1.3" />
<line x1="712.5" y1="909.2" x2="721.5" y2="906.7" stroke="#e0e2e2" stroke-width="1.3" />
<line x1="712.5" y1="913.7" x2="721.5" y2="911.2" stroke="#e0e2e2" stroke-width="1.3" />
<line x1="712.5" y1="918.2" x2="721.5" y2="915.7" stroke="#e0e2e2" stroke-width="1.3" />
<line x1="712.5" y1="922.7" x2="721.5" y2="920.2" stroke="#e0e2e2" stroke-width="1.3" />
<line x1="712.5" y1="927.2" x2="721.5" y2="924.7" stroke="#e0e2e2" stroke-width="1.3" />
<path d="M730.3,916 C738.3,919 737.3,941.6 735.8,948.6 L739.3,953.6 L739.3,957.6 L721.3,957.6 L721.3,953.6 L724.8,948.6 C723.3,941.6 722.3,919 730.3,916 Z" fill="#b9bcbd" stroke="#8d167f" stroke-width="4" stroke-linejoin="round"/>
<line x1="725.8" y1="925.5" x2="734.8" y2="923" stroke="#e0e2e2" stroke-width="1.3" />
<line x1="725.8" y1="930" x2="734.8" y2="927.5" stroke="#e0e2e2" stroke-width="1.3" />
<line x1="725.8" y1="934.5" x2="734.8" y2="932" stroke="#e0e2e2" stroke-width="1.3" />
<line x1="725.8" y1="939" x2="734.8" y2="936.5" stroke="#e0e2e2" stroke-width="1.3" />
<line x1="725.8" y1="943.5" x2="734.8" y2="941" stroke="#e0e2e2" stroke-width="1.3" />
<line x1="725.8" y1="948" x2="734.8" y2="945.5" stroke="#e0e2e2" stroke-width="1.3" /></g>
<circle cx="687.45" cy="872.7" r="165.5" fill="none" stroke="#8d167f" stroke-width="4.8"/>
<clipPath id="cc3"><circle cx="687.2" cy="1391.1" r="167"/></clipPath>
<circle cx="687.2" cy="1391.1" r="167" fill="#fff"/>
<g clip-path="url(#cc3)"><polygon points="677.6,1361 808.4,1326.7 808.4,1580 677.6,1580" fill="#c4c4c4" stroke="none" stroke-width="1.3" stroke-linejoin="round" />
<line x1="677.6" y1="1361" x2="677.6" y2="1580" stroke="#777" stroke-width="1.3" />
<line x1="808.4" y1="1326.7" x2="808.4" y2="1580" stroke="#777" stroke-width="1.3" />
<line x1="540" y1="1278" x2="808.4" y2="1326.7" stroke="#555" stroke-width="1.3" />
<line x1="677.6" y1="1361" x2="808.4" y2="1326.7" stroke="#666" stroke-width="1.2" />
<polygon points="548,1304 661.8,1322 661.8,1372 630.2,1379.8 520,1366 520,1304" fill="#fff" stroke="none" stroke-width="1.3" stroke-linejoin="round" />
<polyline points="548,1304 661.8,1322 661.8,1372 630.2,1379.8 520,1364" fill="none" stroke="#555" stroke-width="1.3" stroke-linejoin="round" />
<line x1="520" y1="1350" x2="658" y2="1371" stroke="#666" stroke-width="1.2" />
<polyline points="541,1322 570,1327 573,1331 573,1363" fill="none" stroke="#666" stroke-width="1.2" stroke-linejoin="round" />
<polyline points="520,1376.2 654.6,1387.7 677.6,1361.2" fill="none" stroke="#555" stroke-width="1.2" stroke-linejoin="round" />
<line x1="656.8" y1="1389.2" x2="656.8" y2="1580" stroke="#555" stroke-width="1.3" />
<path d="M656.8,1389.2 L664,1389.2 Q666.3,1389.2 666.3,1392 L666.3,1498 Q666.3,1500.3 664,1500.3 L656.8,1500.3" fill="#fff" stroke="#555" stroke-width="1.3"/>
<line x1="656.8" y1="1413.6" x2="666.3" y2="1413.6" stroke="#444" stroke-width="1.3" />
<line x1="656.8" y1="1475.5" x2="666.3" y2="1475.5" stroke="#444" stroke-width="1.3" />
<line x1="656.8" y1="1389.2" x2="570.8" y2="1479" stroke="#555" stroke-width="1.3" />
<polyline points="570.8,1479 520,1480" fill="none" stroke="#555" stroke-width="1.2" stroke-linejoin="round" />
<polyline points="556,1488 560,1486 560,1505" fill="none" stroke="#555" stroke-width="1.1" stroke-linejoin="round" />
<rect x="533" y="1340" width="16" height="12" rx="2" fill="#fff" stroke="#333" stroke-width="1.6"/>
<path d="M530,1356 C540,1352 550,1351 562,1350" stroke="#555" stroke-width="4" fill="none" stroke-linecap="round"/><path d="M530,1356 C540,1352 550,1351 562,1350" stroke="#fff" stroke-width="1.8" fill="none" stroke-linecap="round"/>
<polygon points="693.4,1334.6 712,1329.5 772.5,1331.7 772.5,1393.5 743.7,1399.2 693.4,1396.4" fill="#fff" stroke="#555" stroke-width="1.3" stroke-linejoin="round" />
<polyline points="697,1338 720,1345 730,1346" fill="none" stroke="#666" stroke-width="1.1" stroke-linejoin="round" />
<line x1="760" y1="1338" x2="760" y2="1384" stroke="#666" stroke-width="1" />
<polyline points="696,1390 706,1386 716,1384 725,1378" fill="none" stroke="#666" stroke-width="1" stroke-linejoin="round" />
<line x1="693.4" y1="1384" x2="772.5" y2="1384" stroke="#888" stroke-width="0.8" />
<line x1="662.5" y1="1330" x2="662.5" y2="1372" stroke="#777" stroke-width="1.2" stroke-dasharray="6 3"/>
<line x1="730.8" y1="1330" x2="730.8" y2="1386" stroke="#777" stroke-width="1.2" stroke-dasharray="6 3"/>
<line x1="660" y1="1324" x2="737.2" y2="1324" stroke="#fff" stroke-width="9" stroke-dasharray="14 8"/>
<line x1="660" y1="1324" x2="737.2" y2="1324" stroke="#8d167f" stroke-width="4.6" stroke-dasharray="14 8"/>
<polygon points="750.2,1324 735.2,1332 735.2,1316" fill="#8d167f" stroke="#fff" stroke-width="1.5" stroke-linejoin="round" />
<line x1="660" y1="1355.7" x2="737.2" y2="1355.7" stroke="#fff" stroke-width="9" stroke-dasharray="14 8"/>
<line x1="660" y1="1355.7" x2="737.2" y2="1355.7" stroke="#8d167f" stroke-width="4.6" stroke-dasharray="14 8"/>
<polygon points="750.2,1355.7 735.2,1363.7 735.2,1347.7" fill="#8d167f" stroke="#fff" stroke-width="1.5" stroke-linejoin="round" />
<path d="M612.5,1312.8 C617.5,1311.8 619.5,1317.8 621.5,1317.8 L642.6,1317.8 C649.6,1318.8 652.6,1321.8 654.6,1323.8 C652.6,1325.8 649.6,1328.8 642.6,1329.8 L621.5,1329.8 C619.5,1329.8 617.5,1335.8 612.5,1334.8 C609.5,1329.8 609.5,1317.8 612.5,1312.8 Z" fill="#b9bcbd" stroke="#8d167f" stroke-width="3.8" stroke-linejoin="round"/>
<line x1="624.5" y1="1318.8" x2="626.5" y2="1328.8" stroke="#e2e4e4" stroke-width="1.2" />
<line x1="628.5" y1="1318.8" x2="630.5" y2="1328.8" stroke="#e2e4e4" stroke-width="1.2" />
<line x1="632.5" y1="1318.8" x2="634.5" y2="1328.8" stroke="#e2e4e4" stroke-width="1.2" />
<line x1="636.5" y1="1318.8" x2="638.5" y2="1328.8" stroke="#e2e4e4" stroke-width="1.2" />
<line x1="640.5" y1="1318.8" x2="642.5" y2="1328.8" stroke="#e2e4e4" stroke-width="1.2" />
<line x1="644.5" y1="1318.8" x2="646.5" y2="1328.8" stroke="#e2e4e4" stroke-width="1.2" />
<line x1="648.5" y1="1318.8" x2="650.5" y2="1328.8" stroke="#e2e4e4" stroke-width="1.2" />
<path d="M612.5,1344.4 C617.5,1343.4 619.5,1349.4 621.5,1349.4 L642.6,1349.4 C649.6,1350.4 652.6,1353.4 654.6,1355.4 C652.6,1357.4 649.6,1360.4 642.6,1361.4 L621.5,1361.4 C619.5,1361.4 617.5,1367.4 612.5,1366.4 C609.5,1361.4 609.5,1349.4 612.5,1344.4 Z" fill="#b9bcbd" stroke="#8d167f" stroke-width="3.8" stroke-linejoin="round"/>
<line x1="624.5" y1="1350.4" x2="626.5" y2="1360.4" stroke="#e2e4e4" stroke-width="1.2" />
<line x1="628.5" y1="1350.4" x2="630.5" y2="1360.4" stroke="#e2e4e4" stroke-width="1.2" />
<line x1="632.5" y1="1350.4" x2="634.5" y2="1360.4" stroke="#e2e4e4" stroke-width="1.2" />
<line x1="636.5" y1="1350.4" x2="638.5" y2="1360.4" stroke="#e2e4e4" stroke-width="1.2" />
<line x1="640.5" y1="1350.4" x2="642.5" y2="1360.4" stroke="#e2e4e4" stroke-width="1.2" />
<line x1="644.5" y1="1350.4" x2="646.5" y2="1360.4" stroke="#e2e4e4" stroke-width="1.2" />
<line x1="648.5" y1="1350.4" x2="650.5" y2="1360.4" stroke="#e2e4e4" stroke-width="1.2" /></g>
<circle cx="687.2" cy="1391.1" r="167" fill="none" stroke="#8d167f" stroke-width="4.8"/>
<polygon points="1067,127 1447,127 1447,842 1067,842" fill="#fff" stroke="none" stroke-width="1.3" stroke-linejoin="round" />
<line x1="1067" y1="127" x2="1447" y2="127" stroke="#4a4a4a" stroke-width="2" />
<line x1="1067" y1="842" x2="1447" y2="842" stroke="#333" stroke-width="2.4" />
<line x1="1067" y1="127" x2="1067" y2="842" stroke="#7a7a7a" stroke-width="2.1" />
<line x1="1447" y1="127" x2="1447" y2="842" stroke="#5a5a5a" stroke-width="2.1" />
<line x1="1076.5" y1="143.75" x2="1437.5" y2="143.75" stroke="#4a4a4a" stroke-width="1.8" />
<line x1="1076.5" y1="823.4" x2="1437.5" y2="823.4" stroke="#404040" stroke-width="1.8" />
<line x1="1076.5" y1="143.75" x2="1076.5" y2="823.4" stroke="#7a7a7a" stroke-width="2" />
<line x1="1437.5" y1="143.75" x2="1437.5" y2="823.4" stroke="#555" stroke-width="1.9" />
<line x1="1067" y1="127" x2="1076.5" y2="143.75" stroke="#555" stroke-width="1.6" />
<line x1="1447" y1="127" x2="1437.5" y2="143.75" stroke="#555" stroke-width="1.6" />
<line x1="1067" y1="842" x2="1076.5" y2="823.4" stroke="#444" stroke-width="1.6" />
<line x1="1447" y1="842" x2="1437.5" y2="823.4" stroke="#444" stroke-width="1.6" />
<line x1="1087" y1="154.6" x2="1426.6" y2="154.6" stroke="#444" stroke-width="1.8" />
<line x1="1087" y1="813.75" x2="1426.6" y2="813.75" stroke="#444" stroke-width="1.8" />
<line x1="1087" y1="154.6" x2="1087" y2="813.75" stroke="#333" stroke-width="1.9" />
<line x1="1426.6" y1="154.6" x2="1426.6" y2="813.75" stroke="#7a7a7a" stroke-width="1.9" />
<polygon points="1119,187.3 1395,187.3 1395,781.6 1119,781.6" fill="#d1eefd" stroke="#0b1013" stroke-width="2" stroke-linejoin="round" />
<line x1="1119" y1="781.6" x2="1112" y2="789" stroke="#222" stroke-width="1.5" />
<line x1="1395" y1="781.6" x2="1402" y2="789" stroke="#222" stroke-width="1.5" />
<line x1="1112" y1="789" x2="1402" y2="789" stroke="#ddd" stroke-width="1" stroke-dasharray="2 3"/>
<line x1="1402" y1="190" x2="1402" y2="789" stroke="#ebe7ee" stroke-width="1.2" />
<line x1="1112" y1="190" x2="1112" y2="789" stroke="#eee" stroke-width="1" />
<path d="M1082,158 L1085,156 L1087,158 L1087,172 L1083,172 Z" fill="#fff" stroke="#222" stroke-width="1.2"/>
<rect x="1078.5" y="787" width="8" height="28" rx="2" fill="#fff" stroke="#333" stroke-width="1.2"/>
<line x1="1078.5" y1="796" x2="1086.5" y2="796" stroke="#333" stroke-width="1" />
<line x1="1078.5" y1="805" x2="1086.5" y2="805" stroke="#333" stroke-width="1" />
<path d="M1411,481 C1414,478 1420,478 1422,482 C1423,485 1422.5,489 1422,491 C1422.5,500 1423.5,540 1423.5,558 C1423.5,560 1422,561 1420,561 L1413,561 C1411,561 1410,560 1410,558 L1410,512 C1408.5,510 1407.5,505 1408,498 C1408,490 1408,484 1411,481 Z" fill="#fff" stroke="#2a2a2a" stroke-width="1.6"/>
<path d="M1409,493 C1411,489 1415,489 1418,490 C1420,491 1422,493 1422,497" fill="none" stroke="#2a2a2a" stroke-width="1.4"/>
<line x1="1062.25" y1="106.25" x2="1448.4" y2="106.25" stroke="#fff" stroke-width="12" stroke-linecap="round"/>
<line x1="1062.25" y1="88.4" x2="1062.25" y2="123.8" stroke="#fff" stroke-width="12" stroke-linecap="round"/>
<line x1="1448.4" y1="88.3" x2="1448.4" y2="125.8" stroke="#fff" stroke-width="12" stroke-linecap="round"/>
<line x1="1062.25" y1="106.25" x2="1448.4" y2="106.25" stroke="#8d167f" stroke-width="4.1" />
<line x1="1062.25" y1="88.4" x2="1062.25" y2="123.8" stroke="#8d167f" stroke-width="4.1" />
<line x1="1448.4" y1="88.3" x2="1448.4" y2="125.8" stroke="#8d167f" stroke-width="4.1" />
<line x1="1076" y1="179.4" x2="1437.8" y2="179.4" stroke="#fff" stroke-width="12" stroke-linecap="round"/>
<line x1="1076" y1="160" x2="1076" y2="199" stroke="#fff" stroke-width="12" stroke-linecap="round"/>
<line x1="1437.8" y1="160" x2="1437.8" y2="194.5" stroke="#fff" stroke-width="12" stroke-linecap="round"/>
<line x1="1076" y1="179.4" x2="1437.8" y2="179.4" stroke="#8d167f" stroke-width="4.1" />
<line x1="1076" y1="160" x2="1076" y2="199" stroke="#8d167f" stroke-width="4.1" />
<line x1="1437.8" y1="160" x2="1437.8" y2="194.5" stroke="#8d167f" stroke-width="4.1" />
<line x1="1039" y1="126" x2="1039" y2="843" stroke="#fff" stroke-width="12" stroke-linecap="round"/>
<line x1="1025" y1="126" x2="1053" y2="126" stroke="#fff" stroke-width="12" stroke-linecap="round"/>
<line x1="1021" y1="843" x2="1057" y2="843" stroke="#fff" stroke-width="12" stroke-linecap="round"/>
<line x1="1039" y1="126" x2="1039" y2="843" stroke="#8d167f" stroke-width="4.1" />
<line x1="1025" y1="126" x2="1053" y2="126" stroke="#8d167f" stroke-width="4.1" />
<line x1="1021" y1="843" x2="1057" y2="843" stroke="#8d167f" stroke-width="4.1" />
<line x1="1472.3" y1="143.75" x2="1472.3" y2="825" stroke="#fff" stroke-width="12" stroke-linecap="round"/>
<line x1="1456" y1="143.75" x2="1488" y2="143.75" stroke="#fff" stroke-width="12" stroke-linecap="round"/>
<line x1="1451.6" y1="825" x2="1486.7" y2="825" stroke="#fff" stroke-width="12" stroke-linecap="round"/>
<line x1="1472.3" y1="143.75" x2="1472.3" y2="825" stroke="#8d167f" stroke-width="4.1" />
<line x1="1456" y1="143.75" x2="1488" y2="143.75" stroke="#8d167f" stroke-width="4.1" />
<line x1="1451.6" y1="825" x2="1486.7" y2="825" stroke="#8d167f" stroke-width="4.1" />
<g font-family="Liberation Sans, sans-serif" font-weight="700" font-size="39" fill="#8d167f" stroke="#fff" stroke-width="7" stroke-linejoin="round" paint-order="stroke fill">
<text x="1225" y="97.9">W</text>
<path d="M1267,74.5 L1273.8,70.1 L1278.6,70.1 L1278.6,97.65 L1272.3,97.65 L1272.3,80.8 L1267,83 Z"/>
<text x="1227.7" y="223">W</text>
<text x="1265.9" y="223">2</text>
<text x="984.8" y="467">H</text>
<path d="M1018.1,444.6 L1025.1,440 L1029.9,440 L1029.9,466.75 L1023.6,466.75 L1023.6,450.6 L1018.1,452.8 Z"/>
<text x="1488.9" y="467">H</text>
<text x="1518.7" y="467">2</text>
</g>
<g fill="#fff">
<path d="M541.75,595.75 L548.5,593 L551.75,593 L551.75,619.25 L547,619.25 L547,600.7 L541.75,602.9 Z"/>
</g>
</svg>
<div class="t hb" style="left:1012.5px;top:912.4px;font-size:45px;letter-spacing:0.9px">Note:</div>
<div class="t bd" style="left:1012.8px;top:991.5px;letter-spacing:0.1px">please measure your windows at</div>
<div class="t bd" style="left:1014px;top:1049.7px;letter-spacing:0.38px">first to choose the right size blinds.</div>
<div class="t hb" style="left:1012.4px;top:1146.6px;font-size:46px;letter-spacing:-0.5px">Outside Installation:</div>
<div class="t bd" style="left:1011.4px;top:1227.2px;letter-spacing:0.7px">Blinds Width=W1+(10-15)cm</div>
<div class="t bd" style="left:1011.4px;top:1284.3px;letter-spacing:0.54px">Blinds Heigh=H1+(10-15)cm</div>
<div class="t hb" style="left:1011.4px;top:1376.6px;font-size:46px;letter-spacing:-0.52px">Inside Installation:</div>
<div class="t bd" style="left:1011.4px;top:1456.6px;letter-spacing:0.72px">Blinds Width=W2-1cm</div>
<div class="t bd" style="left:1011.4px;top:1514.3px;letter-spacing:0.47px">Blinds Heigh=H2</div>
</body></html>
